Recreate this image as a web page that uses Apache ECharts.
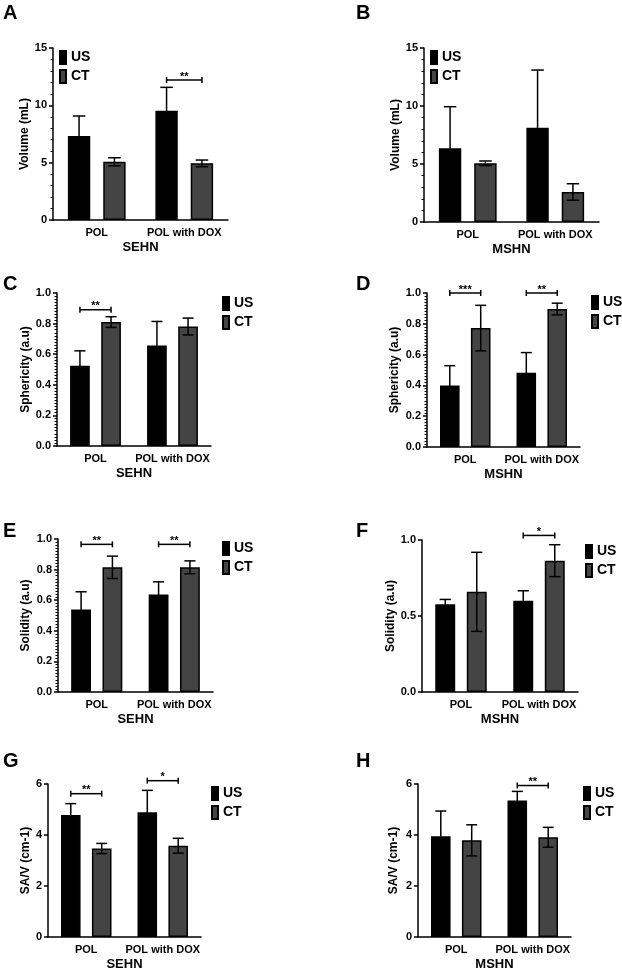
<!DOCTYPE html>
<html>
<head>
<meta charset="utf-8">
<script src="https://cdn.jsdelivr.net/npm/echarts@6/dist/echarts.min.js"></script>
<style>
  html, body { margin: 0; padding: 0; background: #fff; }
  #chart { width: 622px; height: 974px; }
</style>
</head>
<body>
<div id="chart"></div>
<script>
const categories = ['POL', 'POL with DOX'];

// A - volume, SEHN
const aUS = [7.33, 9.53], aUSsd = [1.74, 2.04];
const aCT = [5.08, 4.94], aCTsd = [0.35, 0.29];
const aSig = [[1, 12.2, '**']];
// B - volume, MSHN
const bUS = [6.35, 8.13], bUSsd = [3.59, 4.97];
const bCT = [5.06, 2.59], bCTsd = [0.2, 0.71];
const bSig = [];
// C - sphericity, SEHN
const cUS = [0.524, 0.657], cUSsd = [0.098, 0.157];
const cCT = [0.81, 0.781], cCTsd = [0.035, 0.055];
const cSig = [[0, 0.89, '**']];
// D - sphericity, MSHN
const dUS = [0.40, 0.482], dUSsd = [0.128, 0.131];
const dCT = [0.772, 0.896], dCTsd = [0.148, 0.038];
const dSig = [[0, 1.0, '***'], [1, 1.0, '**']];
// E - solidity, SEHN
const eUS = [0.54, 0.638], eUSsd = [0.115, 0.082];
const eCT = [0.815, 0.815], eCTsd = [0.073, 0.042];
const eSig = [[0, 0.965, '**'], [1, 0.965, '**']];
// F - solidity, MSHN
const fUS = [0.578, 0.60], fUSsd = [0.031, 0.066];
const fCT = [0.659, 0.864], fCTsd = [0.26, 0.105];
const fSig = [[1, 1.03, '*']];
// G - SA/V, SEHN
const gUS = [4.78, 4.89], gUSsd = [0.45, 0.86];
const gCT = [3.47, 3.58], gCTsd = [0.2, 0.29];
const gSig = [[0, 5.62, '**'], [1, 6.13, '*']];
// H - SA/V, MSHN
const hUS = [3.95, 5.35], hUSsd = [0.99, 0.36];
const hCT = [3.79, 3.91], hCTsd = [0.61, 0.39];
const hSig = [[1, 5.94, '**']];

const FONT = '"Liberation Sans", Arial, sans-serif';
const CAT_GAP = 0.34;
const BAR_GAP = 0.58;
const CT_COLOR = '#444444';

const panels = [
  { letter: 'A', us: aUS, usSd: aUSsd, ct: aCT, ctSd: aCTsd, sig: aSig, yName: 'Volume (mL)', xName: 'SEHN',
    max: 15, interval: 5, minor: 5, grid: [53, 48, 175, 172], nameGap: 20, legend: [59, 50], letterAt: [3, 3] },
  { letter: 'B', us: bUS, usSd: bUSsd, ct: bCT, ctSd: bCTsd, sig: bSig, yName: 'Volume (mL)', xName: 'MSHN',
    max: 15, interval: 5, minor: 5, grid: [424, 48, 175, 174], nameGap: 22, legend: [430, 50], letterAt: [356, 3] },
  { letter: 'C', us: cUS, usSd: cUSsd, ct: cCT, ctSd: cCTsd, sig: cSig, yName: 'Sphericity (a.u)', xName: 'SEHN',
    max: 1, interval: 0.2, minor: 10, grid: [57, 293, 154, 153], nameGap: 25, legend: [222, 296], letterAt: [3, 274] },
  { letter: 'D', us: dUS, usSd: dUSsd, ct: dCT, ctSd: dCTsd, sig: dSig, yName: 'Sphericity (a.u)', xName: 'MSHN',
    max: 1, interval: 0.2, minor: 10, grid: [427, 293, 153, 154], nameGap: 26, legend: [591, 295], letterAt: [356, 274] },
  { letter: 'E', us: eUS, usSd: eUSsd, ct: eCT, ctSd: eCTsd, sig: eSig, yName: 'Solidity (a.u)', xName: 'SEHN',
    max: 1, interval: 0.2, minor: 10, grid: [58, 539, 155, 153], nameGap: 26, legend: [222, 541], letterAt: [3, 521] },
  { letter: 'F', us: fUS, usSd: fUSsd, ct: fCT, ctSd: fCTsd, sig: fSig, yName: 'Solidity (a.u)', xName: 'MSHN',
    max: 1, interval: 0.5, minor: 0, grid: [422, 540, 156, 152], nameGap: 21, legend: [585, 544], letterAt: [356, 521] },
  { letter: 'G', us: gUS, usSd: gUSsd, ct: gCT, ctSd: gCTsd, sig: gSig, yName: 'SA/V (cm-1)', xName: 'SEHN',
    max: 6, interval: 2, minor: 0, grid: [48, 784, 153, 153], nameGap: 16, legend: [211, 786], letterAt: [3, 751] },
  { letter: 'H', us: hUS, usSd: hUSsd, ct: hCT, ctSd: hCTsd, sig: hSig, yName: 'SA/V (cm-1)', xName: 'MSHN',
    max: 6, interval: 2, minor: 0, grid: [418, 784, 153, 153], nameGap: 18, legend: [583, 786], letterAt: [356, 751] }
];

function barOffset(api, side) {
  const W = api.size([1, 0])[0];
  const b = W * (1 - CAT_GAP) / (2 + BAR_GAP);
  return { off: (side === 0 ? -1 : 1) * b * (1 + BAR_GAP) / 2, b: b };
}

function errorBar(params, api) {
  const cat = api.value(0), m = api.value(1), sd = api.value(2), side = api.value(3);
  const o = barOffset(api, side);
  const top = api.coord([cat, m + sd]);
  const bot = api.coord([cat, m - sd]);
  const x = top[0] + o.off;
  const cw = o.b * 0.28;
  const style = { stroke: '#000', lineWidth: 1.5 };
  return {
    type: 'group',
    children: [
      { type: 'line', shape: { x1: x, y1: top[1], x2: x, y2: bot[1] }, style: style },
      { type: 'line', shape: { x1: x - cw, y1: top[1], x2: x + cw, y2: top[1] }, style: style },
      { type: 'line', shape: { x1: x - cw, y1: bot[1], x2: x + cw, y2: bot[1] }, style: style }
    ]
  };
}

function sigBracket(sig) {
  return function (params, api) {
    const cat = api.value(0), y = api.value(1);
    const p = api.coord([cat, y]);
    const l = barOffset(api, 0), r = barOffset(api, 1);
    const x1 = p[0] + l.off, x2 = p[0] + r.off;
    const style = { stroke: '#000', lineWidth: 1.5 };
    return {
      type: 'group',
      children: [
        { type: 'line', shape: { x1: x1, y1: p[1], x2: x2, y2: p[1] }, style: style },
        { type: 'line', shape: { x1: x1, y1: p[1] - 3, x2: x1, y2: p[1] + 3 }, style: style },
        { type: 'line', shape: { x1: x2, y1: p[1] - 3, x2: x2, y2: p[1] + 3 }, style: style },
        { type: 'text', x: (x1 + x2) / 2, y: p[1] + 2,
          style: { text: sig[params.dataIndex][2], fill: '#000', font: 'bold 11px ' + FONT,
                   align: 'center', verticalAlign: 'bottom' } }
      ]
    };
  };
}

const option = {
  animation: false,
  textStyle: { fontFamily: FONT },
  grid: [], xAxis: [], yAxis: [], series: [], legend: [], graphic: []
};

panels.forEach(function (p, i) {
  option.grid.push({ left: p.grid[0], top: p.grid[1], width: p.grid[2], height: p.grid[3] });
  option.xAxis.push({
    type: 'category', gridIndex: i, data: categories,
    name: p.xName, nameLocation: 'middle', nameGap: 21,
    nameTextStyle: { fontSize: 13, fontWeight: 'bold', color: '#000' },
    axisLine: { lineStyle: { color: '#000', width: 1.5 } },
    axisTick: { alignWithLabel: true, length: 4, lineStyle: { color: '#000', width: 1.5 } },
    axisLabel: { interval: 0, hideOverlap: false, fontSize: 11, fontWeight: 'bold', color: '#000', margin: 7 }
  });
  option.yAxis.push({
    type: 'value', gridIndex: i, min: 0, max: p.max, interval: p.interval,
    name: p.yName, nameLocation: 'middle', nameGap: p.nameGap,
    nameTextStyle: { fontSize: 12, fontWeight: 'bold', color: '#000' },
    axisLine: { show: true, lineStyle: { color: '#000', width: 1.5 } },
    axisTick: { show: true, length: 4, lineStyle: { color: '#000', width: 1.5 } },
    minorTick: { show: p.minor > 0, splitNumber: p.minor || 5, length: 2.5, lineStyle: { color: '#000', width: 1 } },
    splitLine: { show: false },
    axisLabel: {
      fontSize: 11, fontWeight: 'bold', color: '#000', margin: 6,
      formatter: function (v) { return p.max === 1 ? v.toFixed(1) : String(v); }
    }
  });
  option.series.push({
    type: 'bar', name: 'US', xAxisIndex: i, yAxisIndex: i, data: p.us,
    barCategoryGap: (CAT_GAP * 100) + '%', barGap: (BAR_GAP * 100) + '%',
    itemStyle: { color: '#000', borderColor: '#000', borderWidth: 1.5 }
  });
  option.series.push({
    type: 'bar', name: 'CT', xAxisIndex: i, yAxisIndex: i, data: p.ct,
    barCategoryGap: (CAT_GAP * 100) + '%', barGap: (BAR_GAP * 100) + '%',
    itemStyle: { color: CT_COLOR, borderColor: '#000', borderWidth: 1.5 }
  });
  const err = [];
  p.us.forEach(function (v, k) { err.push([k, v, p.usSd[k], 0]); });
  p.ct.forEach(function (v, k) { err.push([k, v, p.ctSd[k], 1]); });
  option.series.push({
    type: 'custom', xAxisIndex: i, yAxisIndex: i, z: 5, clip: false,
    renderItem: errorBar, data: err
  });
  if (p.sig.length) {
    option.series.push({
      type: 'custom', xAxisIndex: i, yAxisIndex: i, z: 5, clip: false,
      renderItem: sigBracket(p.sig),
      data: p.sig.map(function (s) { return [s[0], s[1]]; })
    });
  }
  option.legend.push({
    data: ['US', 'CT'], orient: 'vertical', left: p.legend[0], top: p.legend[1],
    padding: 0, itemWidth: 6, itemHeight: 13, itemGap: 4, icon: 'rect', selectedMode: false,
    textStyle: { fontSize: 14, fontWeight: 'bold', color: '#000' }
  });
  option.graphic.push({
    type: 'text', left: p.letterAt[0], top: p.letterAt[1],
    style: { text: p.letter, font: 'bold 20px ' + FONT, fill: '#000' }
  });
});

const chart = echarts.init(document.getElementById('chart'));
chart.setOption(option);
window.addEventListener('resize', function () { chart.resize(); });
</script>
</body>
</html>
